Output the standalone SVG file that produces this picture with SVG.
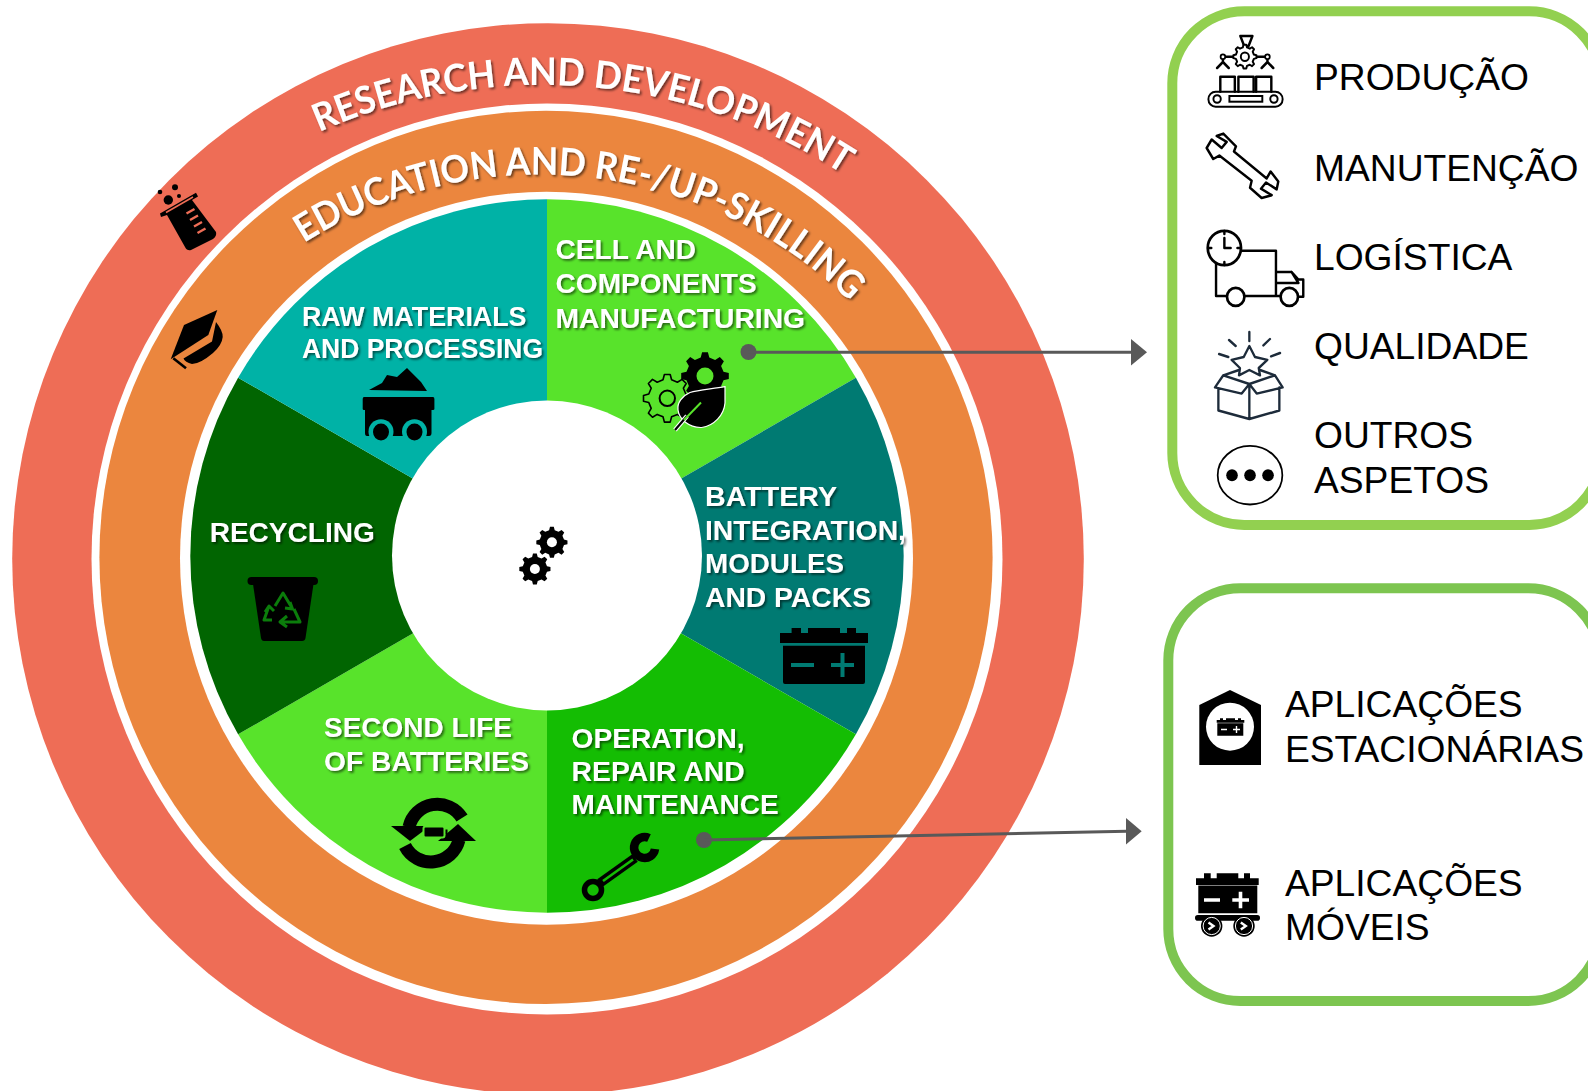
<svg xmlns="http://www.w3.org/2000/svg" xmlns:xlink="http://www.w3.org/1999/xlink" width="1588" height="1091" viewBox="0 0 1588 1091">
<style>
.lbl{font-family:"Liberation Sans",Arial,sans-serif;font-weight:700;font-size:27.5px;fill:#fff;filter:url(#sh)}
.arc{font-family:Lato,"Liberation Sans",sans-serif;font-weight:700;font-size:38px;fill:#fff;filter:url(#sh)}
.leg{font-family:"Liberation Sans",Arial,sans-serif;font-size:37.2px;fill:#000}
.ol{fill:#fff;stroke:#000;stroke-width:2.5;stroke-linejoin:round}
.nl{fill:none;stroke:#000;stroke-width:2.5;stroke-linecap:round;stroke-linejoin:round}
.bx{fill:none;stroke:#1d2b3a;stroke-width:2.4;stroke-linejoin:round;stroke-linecap:round}
.con{stroke:#595959;stroke-width:3;fill:none}
.conh{fill:#595959}
</style>
<defs>
<filter id="sh" x="-10%" y="-30%" width="120%" height="170%"><feDropShadow dx="1.8" dy="1.8" stdDeviation="1.3" flood-color="#000" flood-opacity=".55"/></filter>
<path id="a1" d="M319,132 A552,552 0 0 1 866.5,190.4"/>
<path id="a2" d="M304,243 A441.5,441.5 0 0 1 877.8,331.7"/>
<path id="gp" stroke-linejoin="round" d="M18.5,-4.3 L23.8,-2.9 L23.8,2.9 L18.5,4.3 L16.1,10.1 L18.9,14.8 L14.8,18.9 L10.1,16.1 L4.3,18.5 L2.9,23.8 L-2.9,23.8 L-4.3,18.5 L-10.1,16.1 L-14.8,18.9 L-18.9,14.8 L-16.1,10.1 L-18.5,4.3 L-23.8,2.9 L-23.8,-2.9 L-18.5,-4.3 L-16.1,-10.1 L-18.9,-14.8 L-14.8,-18.9 L-10.1,-16.1 L-4.3,-18.5 L-2.9,-23.8 L2.9,-23.8 L4.3,-18.5 L10.1,-16.1 L14.8,-18.9 L18.9,-14.8 L16.1,-10.1Z"/>
</defs>

<g id="ring-research"><circle cx="548" cy="559" r="535.8" fill="#EE6D56"/><circle cx="547" cy="559" r="455.5" fill="#fff"/>
<text class="arc"><textPath href="#a1" textLength="548" lengthAdjust="spacingAndGlyphs">RESEARCH AND DEVELOPMENT</textPath></text>
<g id="icon-beaker">
<circle cx="168.3" cy="200" r="4.7"/><circle cx="175" cy="187.3" r="3"/><circle cx="160" cy="192" r="2.3"/><circle cx="179" cy="196" r="2"/>
<path d="M160,213.5 L196,192.7 L198,196.5 L192,200 L216,232 Q217,236 213,239 L191,250 Q187,251 185,247 L167,215 L161,217Z"/>
<path d="M166,212.5 L193,197" stroke="#EE6D56" stroke-width="1.6" fill="none"/>
<path d="M186.5,213.5 L194.5,209 M190,220 L198,215.5 M194,226.5 L202,222 M197.5,233 L205.5,228.5" stroke="#EE6D56" stroke-width="2.4" fill="none"/>
</g></g>

<g id="ring-education"><circle cx="546" cy="557.4" r="446.6" fill="#EB863E"/><circle cx="546.5" cy="558.2" r="366.5" fill="#fff"/>
<text class="arc"><textPath href="#a2" textLength="592" lengthAdjust="spacingAndGlyphs">EDUCATION AND RE-/UP-SKILLING</textPath></text>
<g id="icon-cap">
<path d="M217.3,310 L184,325 L170.7,359.3 L208.3,335Z"/>
<path d="M216,322 Q223,331 222.7,337 Q222,345 213,353 Q200,364 192,364 Q185,362 183.5,358.5 L212,341.5Z"/>
<path d="M173.3,358.3 L186,368.3" stroke="#000" stroke-width="2.6"/>
</g></g>

<g id="wheel">
<path d="M547,556 L547,199.3 A356.7,356.7 0 0 1 855.9,377.65Z" fill="#58E32B"/>
<path d="M547,556 L855.9,377.65 A356.7,356.7 0 0 1 855.9,734.35Z" fill="#007A72"/>
<path d="M547,556 L855.9,734.35 A356.7,356.7 0 0 1 547,912.7Z" fill="#14BD03"/>
<path d="M547,556 L547,912.7 A356.7,356.7 0 0 1 238.1,734.35Z" fill="#58E32B"/>
<path d="M547,556 L238.1,734.35 A356.7,356.7 0 0 1 238.1,377.65Z" fill="#016501"/>
<path d="M547,556 L238.1,377.65 A356.7,356.7 0 0 1 547,199.3Z" fill="#00B2A6"/>
<circle cx="547" cy="555.4" r="155" fill="#fff"/>
</g>

<g id="node-center">
<use href="#gp" transform="translate(551.9,542.3) scale(.654)"/><circle cx="551.9" cy="542.3" r="5" fill="#fff"/>
<use href="#gp" transform="translate(534.9,569) scale(.654)"/><circle cx="534.9" cy="569" r="5" fill="#fff"/>
</g>

<g id="node-raw">
<text class="lbl"><tspan x="302" y="326" textLength="224.5" lengthAdjust="spacingAndGlyphs">RAW MATERIALS</tspan></text>
<text class="lbl"><tspan x="302" y="357.7" textLength="241" lengthAdjust="spacingAndGlyphs">AND PROCESSING</tspan></text>
<path d="M369,390 L382,383 L387,375 L397,377 L407,368 L421,382 L427,391Z"/>
<path d="M364,397 H433 Q434.4,397 434.4,399 V409 Q434.4,410 433,410 H431.5 V433 Q431.5,436 429,436 H367 Q365,436 365,433 V410 H364 Q362.7,410 362.7,409 V399 Q362.7,397 364,397Z"/>
<circle cx="381" cy="431.7" r="12.5" fill="#00B2A6"/><circle cx="414.5" cy="431.7" r="12.5" fill="#00B2A6"/>
<ellipse cx="381" cy="432" rx="8" ry="8.5"/><ellipse cx="414.5" cy="432" rx="8" ry="8.5"/>
</g>

<g id="node-cell">
<text class="lbl"><tspan x="555.6" y="259" textLength="140.4" lengthAdjust="spacingAndGlyphs">CELL AND</tspan></text>
<text class="lbl"><tspan x="555.6" y="293" textLength="201" lengthAdjust="spacingAndGlyphs">COMPONENTS</tspan></text>
<text class="lbl"><tspan x="555.6" y="327.7" textLength="249.5" lengthAdjust="spacingAndGlyphs">MANUFACTURING</tspan></text>
<use href="#gp" transform="translate(705,376)"/><circle cx="705" cy="376" r="8.5" fill="#58E32B"/>
<use href="#gp" transform="translate(667.3,398.3)" fill="#58E32B" stroke="#000" stroke-width="1.6"/><circle cx="667.3" cy="398.3" r="7.7" fill="none" stroke="#000" stroke-width="2"/>
<path d="M725,386.7 C712,389 698,390 690,392.5 C682,396 677,403 678,410 C679,419 689,428 701.7,427.5 C714,426 724,415 725,403Z" stroke="#fff" stroke-width="1.2" fill="#000"/>
<path d="M675,430 L687,416" stroke="#fff" stroke-width="4.4"/><path d="M675,430 L687,416" stroke="#000" stroke-width="2.2"/><path d="M684,420 L701,402.5" stroke="#58E32B" stroke-width="2"/>
</g>

<g id="node-battery">
<text class="lbl"><tspan x="705" y="505.7" textLength="132" lengthAdjust="spacingAndGlyphs">BATTERY</tspan></text>
<text class="lbl"><tspan x="705" y="540" textLength="201" lengthAdjust="spacingAndGlyphs">INTEGRATION,</tspan></text>
<text class="lbl"><tspan x="705" y="572.7" textLength="139" lengthAdjust="spacingAndGlyphs">MODULES</tspan></text>
<text class="lbl"><tspan x="705" y="606.7" textLength="166" lengthAdjust="spacingAndGlyphs">AND PACKS</tspan></text>
<path d="M780,643 V633 H791.6 V628 H801 V633 H808 V628 H840 V633 H847 V628 H856 V633 H868 V643Z M783,645.7 H865 V682 Q865,684 863,684 H785 Q783,684 783,682Z"/>
<path d="M791,665 H814 M831,665 H854 M842.5,653 V677" stroke="#007A72" stroke-width="4" fill="none"/>
</g>

<g id="node-operation">
<text class="lbl"><tspan x="571.6" y="747.7" textLength="173" lengthAdjust="spacingAndGlyphs">OPERATION,</tspan></text>
<text class="lbl"><tspan x="571.6" y="781" textLength="173" lengthAdjust="spacingAndGlyphs">REPAIR AND</tspan></text>
<text class="lbl"><tspan x="571.6" y="814" textLength="207" lengthAdjust="spacingAndGlyphs">MAINTENANCE</tspan></text>
<path d="M649,838 A10.5,10.5 0 1 0 655,849" fill="none" stroke="#000" stroke-width="8.5"/>
<path d="M635,858 L600,883" stroke="#000" stroke-width="9.5"/><path d="M633,859.5 L603,881" stroke="#14BD03" stroke-width="2.6"/>
<circle cx="593" cy="890" r="8.5" fill="#14BD03" stroke="#000" stroke-width="5.5"/>
</g>

<g id="node-second">
<text class="lbl"><tspan x="324" y="736.7" textLength="188" lengthAdjust="spacingAndGlyphs">SECOND LIFE</tspan></text>
<text class="lbl"><tspan x="324" y="771" textLength="205" lengthAdjust="spacingAndGlyphs">OF BATTERIES</tspan></text>
<path d="M409,827 A29,29 0 0 1 462,818" fill="none" stroke="#000" stroke-width="13"/>
<path d="M391,826 H430 L410,841Z"/>
<path d="M459,840 A29,29 0 0 1 405,846" fill="none" stroke="#000" stroke-width="13"/>
<path d="M476,841 H438 L458,824Z"/>
<rect x="423.5" y="826.5" width="21" height="11" rx="2" stroke="#58E32B" stroke-width="2"/><rect x="445.5" y="829.5" width="2" height="5" fill="#000"/>
</g>

<g id="node-recycling">
<text class="lbl"><tspan x="209.7" y="542.3" textLength="165" lengthAdjust="spacingAndGlyphs">RECYCLING</tspan></text>
<rect x="247.5" y="577" width="70.5" height="8" rx="4"/>
<path d="M253,584 H313.5 L305.5,638 Q305,641 302,641 H264 Q261.5,641 261,638Z"/>
<path d="M275,606 L283,593 L292,608 M290,602 L292.5,609 L285,608 M269,606 L264,620 H272 M265,612 L269,606 L274,611 M281,622 H300 L294,609 M287,616 L280,622 L287,627" fill="none" stroke="#0b7d0b" stroke-width="3" stroke-linejoin="round"/>
</g>

<g id="connectors">
<ellipse cx="748.5" cy="352" rx="8" ry="8" class="conh"/><path class="con" d="M748,352.3 H1132"/><path class="conh" d="M1131,339 L1147,352.3 L1131,365.5Z"/>
<ellipse cx="704" cy="840" rx="8" ry="8" class="conh"/><path class="con" d="M704,840 L1127,831.3"/><path class="conh" d="M1126,818 L1141.7,831.3 L1126,844.5Z"/>
</g>

<g id="legend-uses">
<rect x="1172.3" y="11.3" width="429" height="513.7" rx="72" fill="#fff" stroke="#92D050" stroke-width="10"/>
<text class="leg" x="1314" y="90.2">PRODUÇÃO</text>
<text class="leg" x="1314" y="180.8">MANUTENÇÃO</text>
<text class="leg" x="1314" y="270.3">LOGÍSTICA</text>
<text class="leg" x="1314" y="359">QUALIDADE</text>
<text class="leg" x="1314" y="447.7">OUTROS</text>
<text class="leg" x="1314" y="493">ASPETOS</text>
<g id="icon-production" transform="translate(37.12,0) scale(.968,1)">
<path class="nl" d="M1243,36 H1255.5 L1251.5,46 H1247Z M1236.7,56.7 H1225 M1258.5,56.7 H1271 M1225,57 V62 M1225,62 L1219,68 M1225,62 L1231,68 M1271,57 V62 M1271,62 L1265,68 M1271,62 L1277,68" stroke-width="2"/>
<circle cx="1225" cy="56.7" r="2.4" fill="#fff" stroke="#000" stroke-width="1.8"/><circle cx="1271" cy="56.7" r="2.4" fill="#fff" stroke="#000" stroke-width="1.8"/>
<use href="#gp" transform="translate(1247.7,56.7) scale(.5)" fill="#fff" stroke="#000" stroke-width="4"/><circle cx="1247.7" cy="56.7" r="4.2" fill="none" stroke="#000" stroke-width="2"/>
<path class="nl" stroke-width="2" d="M1222.3,91.7 V76.7 H1237.3 V91.7 M1241,91.7 V76.7 H1256.7 V91.7 M1259.3,91.7 V76.7 H1275 V91.7"/>
<rect x="1210" y="91.7" width="76.7" height="15" rx="7.5" fill="none" stroke="#000" stroke-width="2"/><circle cx="1219" cy="99" r="3.8" fill="none" stroke="#000" stroke-width="2"/><circle cx="1277.7" cy="99" r="3.8" fill="none" stroke="#000" stroke-width="2"/><rect x="1231.7" y="96" width="34" height="5.7" fill="none" stroke="#000" stroke-width="2"/>
</g>
<g id="icon-wrench" transform="translate(37.12,0) scale(.968,1)"><path class="ol" d="M1225.4,133.6 L1238.5,146.3 L1236.4,151.5 L1270.2,178.4 L1274.3,171.5 L1282.2,181.5 L1280.5,189.4 L1269.5,182.5 L1264.3,188.7 L1275.4,195.2 L1265,198 L1253,187.7 L1254.7,180.8 L1221.3,155.6 L1215,159 L1208.2,148 L1213.4,139.5 L1223.7,148 L1228.9,141.9 L1218.5,136Z"/></g>
<g id="icon-truck" transform="translate(37.12,0) scale(.968,1)">
<path class="nl" stroke-width="2.8" d="M1244.4,250.7 H1279.8 V296 H1247.2 M1229,296 H1217.9 V264 M1279.8,272 H1296 L1303,279.6 H1308 V296.8 H1302.6 M1284.6,296 H1279.8 M1280.5,283 H1303 L1296,272"/>
<circle cx="1226.5" cy="248" r="17.2" fill="#fff" stroke="#000" stroke-width="2.8"/><path class="nl" stroke-width="2.4" d="M1226.5,238 V248 H1233 M1226.5,231 V234 M1226.5,262 V265 M1210,248 H1213 M1240,248 H1243"/>
<circle cx="1238.2" cy="296.8" r="9" fill="#fff" stroke="#000" stroke-width="2.8"/><circle cx="1293.6" cy="296.8" r="9" fill="#fff" stroke="#000" stroke-width="2.8"/>
</g>
<g id="icon-quality" transform="translate(37.12,0) scale(.968,1)">
<path class="bx" d="M1252.3,346 L1258.1,357 L1270.9,359.8 L1262,368 L1263.3,375.3 L1252.3,370 L1241.6,375.3 L1242.6,368 L1234,359.8 L1246.5,357Z M1252.3,332 V341 M1231.3,340 L1238.2,346 M1273.6,339 L1266.8,345.4 M1221,354 L1230.6,357 M1284,353 L1274.7,356.4"/>
<path class="bx" d="M1220.3,389 V410.5 L1252.3,419 L1283.3,410.5 V387.4 M1252.3,385.7 V419 M1225.4,375.3 L1216.8,387.4 L1244.4,393.6 L1252.3,384 L1225.4,375.3 L1241.6,370 M1278.8,375.3 L1286.7,387.4 L1259.9,393.6 L1252.3,384 L1278.8,375.3 L1263.3,370"/>
</g>
<g id="icon-other" transform="translate(37.12,0) scale(.968,1)"><ellipse cx="1253" cy="475.2" rx="33.4" ry="29.3" fill="none" stroke="#000" stroke-width="1.8"/><circle cx="1234.4" cy="475.2" r="6"/><circle cx="1253" cy="475.2" r="6"/><circle cx="1271.6" cy="475.2" r="6"/></g>
</g>

<g id="legend-applications">
<rect x="1168.3" y="588.3" width="432" height="412.7" rx="72" fill="#fff" stroke="#7DC550" stroke-width="10"/>
<text class="leg" x="1285" y="716.7">APLICAÇÕES</text>
<text class="leg" x="1285" y="761.7">ESTACIONÁRIAS</text>
<text class="leg" x="1285" y="896">APLICAÇÕES</text>
<text class="leg" x="1285" y="940.3">MÓVEIS</text>
<g id="icon-stationary">
<path d="M1199.3,705 L1230,690 L1261,705 V765 H1199.3Z"/><circle cx="1230" cy="726.7" r="24" fill="#fff"/>
<path d="M1216.7,722.7 V720 H1220 V718.3 H1223 V720 H1226 V718.3 H1235 V720 H1238 V718.3 H1241 V720 H1244.3 V722.7Z M1217.3,723.3 H1243.3 V735.7 H1217.3Z"/>
<path d="M1221,729.5 H1227 M1233,729.5 H1240 M1236.5,726 V733" stroke="#fff" stroke-width="1.4" fill="none"/>
</g>
<g id="icon-mobile">
<path d="M1196,885 V878.3 H1204 V873.3 H1210.7 V878.3 H1216.7 V873.3 H1238.3 V878.3 H1244 V873.3 H1250 V878.3 H1258.7 V885Z M1198.3,885.5 H1257.3 V913.3 H1198.3Z"/>
<path d="M1204,900 H1220 M1232.3,900 H1249 M1240.5,891.7 V908.3" stroke="#fff" stroke-width="3.6" fill="none"/>
<rect x="1195" y="915" width="65" height="5.7" rx="2.8"/>
<circle cx="1211.7" cy="926" r="10.7"/><circle cx="1211.7" cy="926" r="8.6" fill="none" stroke="#fff" stroke-width="1"/><path d="M1208.5,922.5 L1213.5,926 L1208.5,929.5" fill="none" stroke="#fff" stroke-width="2.4"/>
<circle cx="1244" cy="926" r="10.7"/><circle cx="1244" cy="926" r="8.6" fill="none" stroke="#fff" stroke-width="1"/><path d="M1240.8,922.5 L1245.8,926 L1240.8,929.5" fill="none" stroke="#fff" stroke-width="2.4"/>
</g>
</g>
</svg>
